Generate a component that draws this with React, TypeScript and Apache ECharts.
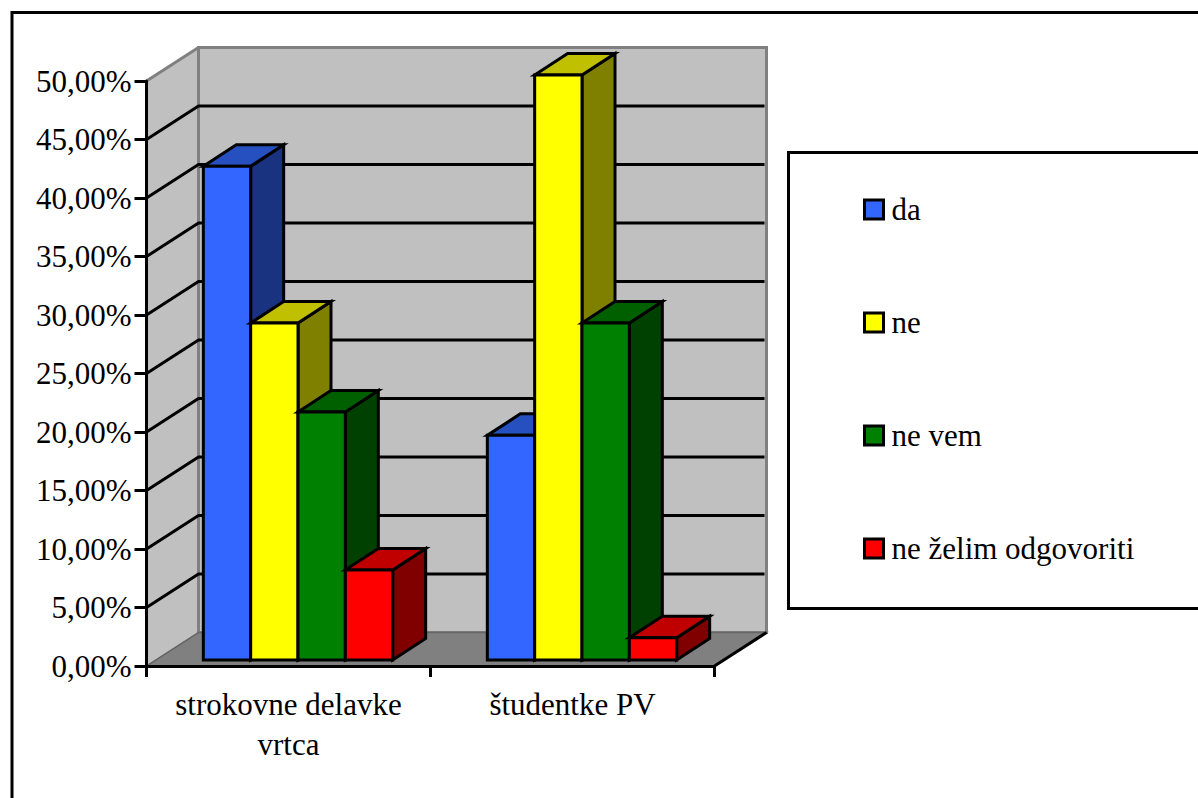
import React, { useEffect, useRef } from "react";
import * as echarts from "echarts";

const categories = ["strokovne delavke\nvrtca", "študentke PV"];
const seriesNames = ["da", "ne", "ne vem", "ne želim odgovoriti"];
const daValues = [42.2, 19.2];
const neValues = [28.8, 50];
const neVemValues = [21.2, 28.8];
const neZelimValues = [7.7, 1.9];
const allValues = [daValues, neValues, neVemValues, neZelimValues];
const yTicks = [5, 10, 15, 20, 25, 30, 35, 40, 45];
const frontColors = ["#3366FF", "#FFFF00", "#008000", "#FF0000"];
const topColors = ["#2650BF", "#C0C000", "#006000", "#C00000"];
const sideColors = ["#1A3380", "#808000", "#004000", "#800000"];

const FONT = "Liberation Serif";
const WALL_DX = 52;
const WALL_DY = -33.5;
const BAR_DX = 9.5;
const BAR_DY = -6;
const DEPTH_DX = 33;
const DEPTH_DY = -21.5;
const LINE = 3;

function renderWalls(_params: any, api: any) {
  const band = api.size([1, 0])[0];
  const p0 = api.coord([0, 0]);
  const left = p0[0] - band / 2;
  const right = left + band * 2;
  const bottom = p0[1];
  const top = api.coord([0, 50])[1];
  const bx = left + WALL_DX;
  const rx = right + WALL_DX;
  const children: any[] = [];
  const gray = { stroke: "#808080", lineWidth: LINE };
  children.push({
    type: "polygon",
    shape: { points: [[left, top], [bx, top + WALL_DY], [bx, bottom + WALL_DY], [left, bottom]] },
    style: { fill: "#C0C0C0", stroke: "#808080", lineWidth: 1 },
  });
  children.push({
    type: "polygon",
    shape: { points: [[bx, top + WALL_DY], [rx, top + WALL_DY], [rx, bottom + WALL_DY], [bx, bottom + WALL_DY]] },
    style: { fill: "#C0C0C0", ...gray },
  });
  children.push({
    type: "polygon",
    shape: { points: [[left, bottom], [right, bottom], [rx, bottom + WALL_DY], [bx, bottom + WALL_DY]] },
    style: { fill: "#808080", stroke: "#666666", lineWidth: 1.5 },
  });
  children.push({
    type: "line",
    shape: { x1: left, y1: top, x2: bx, y2: top + WALL_DY },
    style: gray,
  });
  children.push({
    type: "line",
    shape: { x1: right, y1: bottom, x2: rx, y2: bottom + WALL_DY },
    style: { stroke: "#000", lineWidth: LINE },
  });
  yTicks.forEach((t) => {
    const y = api.coord([0, t])[1];
    children.push({
      type: "polyline",
      shape: { points: [[left, y], [bx, y + WALL_DY], [rx - 2, y + WALL_DY]] },
      style: { stroke: "#000", lineWidth: LINE, fill: "none" },
    });
  });
  return { type: "group", children };
}

function makeBarRenderer(idx: number) {
  return (_params: any, api: any) => {
    const cat = api.value(0);
    const val = api.value(1);
    const band = api.size([1, 0])[0];
    const w = band / 6;
    const c0 = api.coord([cat, 0]);
    const cv = api.coord([cat, val]);
    const x0 = c0[0] - 2 * w + idx * w + BAR_DX;
    const x1 = x0 + w;
    const yb = c0[1] + BAR_DY;
    const yt = cv[1] + BAR_DY;
    const line = { stroke: "#000", lineWidth: LINE, lineJoin: "miter" };
    return {
      type: "group",
      children: [
        {
          type: "polygon",
          shape: { points: [[x1, yt], [x1 + DEPTH_DX, yt + DEPTH_DY], [x1 + DEPTH_DX, yb + DEPTH_DY], [x1, yb]] },
          style: { fill: sideColors[idx], ...line },
        },
        {
          type: "polygon",
          shape: { points: [[x0, yt], [x0 + DEPTH_DX, yt + DEPTH_DY], [x1 + DEPTH_DX, yt + DEPTH_DY], [x1, yt]] },
          style: { fill: topColors[idx], ...line },
        },
        {
          type: "polygon",
          shape: { points: [[x0, yt], [x1, yt], [x1, yb], [x0, yb]] },
          style: { fill: frontColors[idx], ...line },
        },
      ],
    };
  };
}

export default function App() {
  const ref = useRef<HTMLDivElement>(null);
  useEffect(() => {
    const chart = echarts.init(ref.current!, null, { renderer: "svg" });
    chart.setOption({
      animation: false,
      backgroundColor: "#fff",
      textStyle: { fontFamily: FONT, color: "#000" },
      grid: { left: 146.5, top: 81, width: 568, height: 585 },
      xAxis: {
        type: "category",
        data: categories,
        z: 5,
        axisLine: { lineStyle: { color: "#000", width: 3 } },
        axisTick: { show: true, alignWithLabel: false, length: 11, lineStyle: { color: "#000", width: 3 } },
        axisLabel: { interval: 0, fontFamily: FONT, fontSize: 31, color: "#000", margin: 18, lineHeight: 40 },
      },
      yAxis: {
        type: "value",
        min: 0,
        max: 50,
        interval: 5,
        z: 5,
        splitLine: { show: false },
        axisLine: { show: true, lineStyle: { color: "#000", width: 3 } },
        axisTick: { show: true, length: 12, lineStyle: { color: "#000", width: 3 } },
        axisLabel: {
          fontFamily: FONT,
          fontSize: 31,
          color: "#000",
          margin: 15,
          formatter: (v: number) => v.toFixed(2).replace(".", ",") + "%",
        },
      },
      legend: {
        orient: "vertical",
        left: 863,
        top: 194,
        padding: 0,
        itemWidth: 19,
        itemHeight: 19,
        itemGap: 82,
        icon: "rect",
        data: seriesNames,
        itemStyle: { borderColor: "#000", borderWidth: 3 },
        textStyle: { fontFamily: FONT, fontSize: 31, color: "#000", padding: [0, 0, 0, 3] },
      },
      graphic: [
        {
          type: "rect",
          z: -1,
          shape: { x: 12, y: 12.5, width: 1400, height: 1000 },
          style: { fill: "#fff", stroke: "#000", lineWidth: 3 },
        },
        {
          type: "rect",
          z: -1,
          shape: { x: 788.5, y: 152.5, width: 600, height: 456 },
          style: { fill: "#fff", stroke: "#000", lineWidth: 3 },
        },
      ],
      series: [
        {
          type: "custom",
          name: "walls",
          silent: true,
          z: 1,
          data: [[0, 0]],
          encode: { x: 0, y: 1 },
          renderItem: renderWalls,
        },
        ...seriesNames.map((name, i) => ({
          type: "custom",
          name,
          z: 2,
          itemStyle: { color: frontColors[i] },
          data: allValues[i].map((v, c) => [c, v]),
          encode: { x: 0, y: 1 },
          renderItem: makeBarRenderer(i),
        })),
      ],
    });
    return () => chart.dispose();
  }, []);
  return <div ref={ref} style={{ position: "fixed", left: 0, top: 0, width: 1198, height: 798 }} />;
}
